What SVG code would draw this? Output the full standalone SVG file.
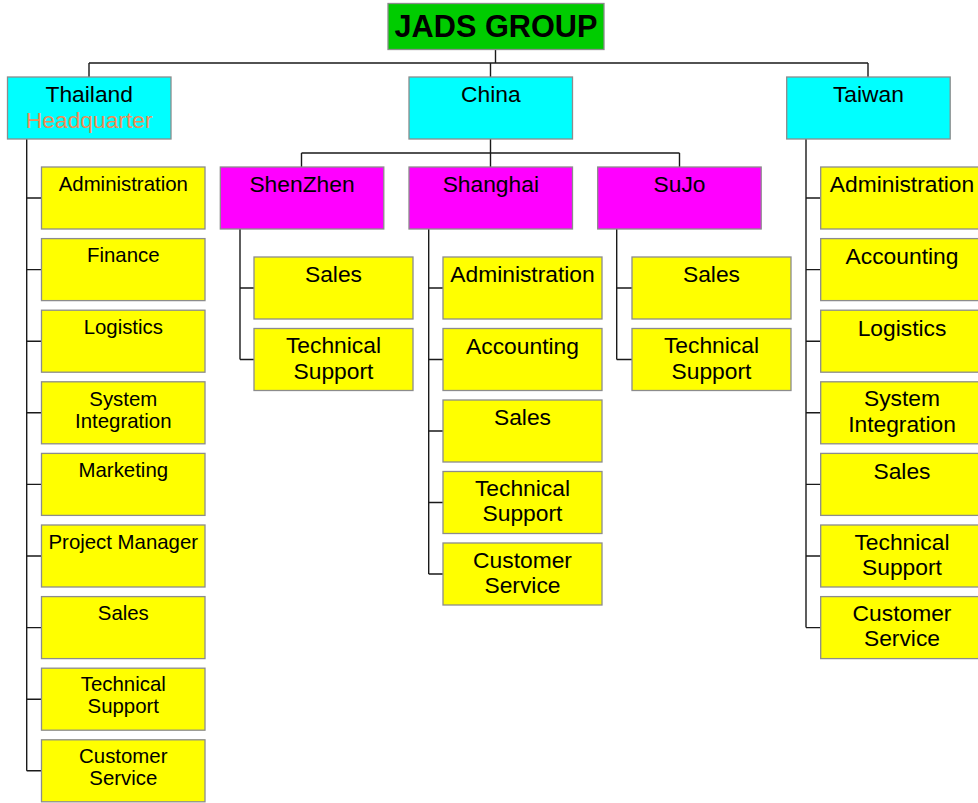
<svg xmlns="http://www.w3.org/2000/svg" width="978" height="803" viewBox="0 0 978 803">
<style>
.b{stroke:#8c8c8c;stroke-width:1.3}
.g{fill:#00cc00}.c{fill:#00ffff}.m{fill:#ff00ff}.y{fill:#ffff00}
text{font-family:"Liberation Sans",Arial,sans-serif;text-anchor:middle;fill:#000}
.t{font-size:22.8px}.s{font-size:20.4px}
.h{font-size:30.7px;font-weight:bold}
.hq{fill:#f08c55}
.k{fill:none;stroke:#1a1a1a;stroke-width:1.4}
</style>
<rect width="978" height="803" fill="#fff"/>
<g id="connectors" class="k">
<path d="M495.5 49V63M89 63H868M89 63V77M490.5 63V77M868 63V77"/>
<path d="M490.5 139V153M301.5 153H679.5M301.5 153V167M490.5 153V167M679.5 153V167"/>
<path d="M26.7 139V770.8M26.7 198H41.5M26.7 269.6H41.5M26.7 341.2H41.5M26.7 412.8H41.5M26.7 484.4H41.5M26.7 556H41.5M26.7 627.6H41.5M26.7 699.2H41.5M26.7 770.8H41.5"/>
<path d="M240 229V359.5M240 288H254M240 359.5H254"/>
<path d="M428.7 229V574M428.7 288H443M428.7 359.5H443M428.7 431H443M428.7 502.5H443M428.7 574H443"/>
<path d="M616.7 229V359.5M616.7 288H632M616.7 359.5H632"/>
<path d="M806 139V627.6M806 198H820.7M806 269.6H820.7M806 341.2H820.7M806 412.8H820.7M806 484.4H820.7M806 556H820.7M806 627.6H820.7"/>
</g>
<g id="jads"><rect class="b g" x="388" y="3.5" width="216" height="46"/><text class="h" x="496" y="37">JADS GROUP</text></g>
<g id="thailand"><rect class="b c" x="7.5" y="77" width="163.5" height="62"/><text class="t" x="89.2" y="101.7">Thailand</text><text class="t hq" x="89.2" y="127.7">Headquarter</text></g>
<g id="china"><rect class="b c" x="409" y="77" width="163.5" height="62"/><text class="t" x="490.8" y="101.7">China</text></g>
<g id="taiwan"><rect class="b c" x="786.7" y="77" width="163.5" height="62"/><text class="t" x="868.4" y="101.7">Taiwan</text></g>
<g id="shenzhen"><rect class="b m" x="220.3" y="167" width="163.5" height="62"/><text class="t" x="302" y="192">ShenZhen</text></g>
<g id="shanghai"><rect class="b m" x="409" y="167" width="163.5" height="62"/><text class="t" x="490.8" y="192">Shanghai</text></g>
<g id="sujo"><rect class="b m" x="597.7" y="167" width="163.5" height="62"/><text class="t" x="679.5" y="192">SuJo</text></g>
<!-- Thailand departments -->
<g id="th-admin"><rect class="b y" x="41.5" y="167" width="163.5" height="62"/><text class="s" x="123.3" y="190.7">Administration</text></g>
<g id="th-finance"><rect class="b y" x="41.5" y="238.6" width="163.5" height="62"/><text class="s" x="123.3" y="262.3">Finance</text></g>
<g id="th-logistics"><rect class="b y" x="41.5" y="310.2" width="163.5" height="62"/><text class="s" x="123.3" y="333.6">Logistics</text></g>
<g id="th-si"><rect class="b y" x="41.5" y="381.8" width="163.5" height="62"/><text class="s" x="123.3" y="405.8">System</text><text class="s" x="123.3" y="428.3">Integration</text></g>
<g id="th-marketing"><rect class="b y" x="41.5" y="453.4" width="163.5" height="62"/><text class="s" x="123.3" y="476.9">Marketing</text></g>
<g id="th-pm"><rect class="b y" x="41.5" y="525" width="163.5" height="62"/><text class="s" x="123.3" y="548.5">Project Manager</text></g>
<g id="th-sales"><rect class="b y" x="41.5" y="596.6" width="163.5" height="62"/><text class="s" x="123.3" y="620.3">Sales</text></g>
<g id="th-ts"><rect class="b y" x="41.5" y="668.2" width="163.5" height="62"/><text class="s" x="123.3" y="690.9">Technical</text><text class="s" x="123.3" y="713.4">Support</text></g>
<g id="th-cs"><rect class="b y" x="41.5" y="739.8" width="163.5" height="62"/><text class="s" x="123.3" y="762.7">Customer</text><text class="s" x="123.3" y="785.2">Service</text></g>
<!-- ShenZhen -->
<g id="sz-sales"><rect class="b y" x="254" y="257" width="159" height="62"/><text class="t" x="333.5" y="282">Sales</text></g>
<g id="sz-ts"><rect class="b y" x="254" y="328.5" width="159" height="62"/><text class="t" x="333.5" y="353.3">Technical</text><text class="t" x="333.5" y="378.5">Support</text></g>
<!-- Shanghai -->
<g id="sh-admin"><rect class="b y" x="443" y="257" width="159" height="62"/><text class="t" x="522.5" y="282">Administration</text></g>
<g id="sh-acc"><rect class="b y" x="443" y="328.5" width="159" height="62"/><text class="t" x="522.5" y="353.5">Accounting</text></g>
<g id="sh-sales"><rect class="b y" x="443" y="400" width="159" height="62"/><text class="t" x="522.5" y="425">Sales</text></g>
<g id="sh-ts"><rect class="b y" x="443" y="471.5" width="159" height="62"/><text class="t" x="522.5" y="496">Technical</text><text class="t" x="522.5" y="521.2">Support</text></g>
<g id="sh-cs"><rect class="b y" x="443" y="543" width="159" height="62"/><text class="t" x="522.5" y="567.7">Customer</text><text class="t" x="522.5" y="592.8">Service</text></g>
<!-- SuJo -->
<g id="sj-sales"><rect class="b y" x="632" y="257" width="159" height="62"/><text class="t" x="711.5" y="282">Sales</text></g>
<g id="sj-ts"><rect class="b y" x="632" y="328.5" width="159" height="62"/><text class="t" x="711.5" y="353.3">Technical</text><text class="t" x="711.5" y="378.5">Support</text></g>
<!-- Taiwan -->
<g id="tw-admin"><rect class="b y" x="820.7" y="167" width="163.5" height="62"/><text class="t" x="902" y="192.3">Administration</text></g>
<g id="tw-acc"><rect class="b y" x="820.7" y="238.6" width="163.5" height="62"/><text class="t" x="902" y="263.9">Accounting</text></g>
<g id="tw-logistics"><rect class="b y" x="820.7" y="310.2" width="163.5" height="62"/><text class="t" x="902" y="335.5">Logistics</text></g>
<g id="tw-si"><rect class="b y" x="820.7" y="381.8" width="163.5" height="62"/><text class="t" x="902" y="406.4">System</text><text class="t" x="902" y="431.6">Integration</text></g>
<g id="tw-sales"><rect class="b y" x="820.7" y="453.4" width="163.5" height="62"/><text class="t" x="902" y="478.5">Sales</text></g>
<g id="tw-ts"><rect class="b y" x="820.7" y="525" width="163.5" height="62"/><text class="t" x="902" y="549.5">Technical</text><text class="t" x="902" y="574.7">Support</text></g>
<g id="tw-cs"><rect class="b y" x="820.7" y="596.6" width="163.5" height="62"/><text class="t" x="902" y="621.2">Customer</text><text class="t" x="902" y="646.4">Service</text></g>
</svg>
